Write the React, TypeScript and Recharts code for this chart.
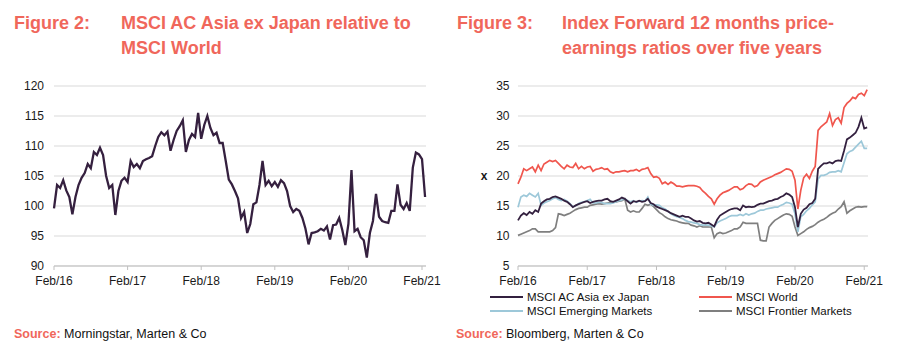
import React from 'react';
import { LineChart, Line, XAxis, YAxis, CartesianGrid } from 'recharts';

// Half-month steps from Feb 2016 (0) to Feb 2021 (120)
const xTickValues = [0, 24, 48, 72, 96, 120];
const xTickLabels = ['Feb/16', 'Feb/17', 'Feb/18', 'Feb/19', 'Feb/20', 'Feb/21'];

const leftYTicks = [90, 95, 100, 105, 110, 115, 120];
const rightYTicks = [5, 10, 15, 20, 25, 30, 35];

// Figure 2: MSCI AC Asia ex Japan relative to MSCI World
const asiaRelWorld = [
  99.6, 103.5, 103.0, 104.3, 102.6, 101.5, 98.6, 101.5, 103.5, 104.7,
  105.5, 107.0, 106.3, 109.0, 108.5, 109.7, 108.5, 105.0, 103.0, 103.5,
  98.5, 102.5, 104.2, 104.7, 104.0, 107.5, 106.5, 107.0, 106.3, 107.5,
  107.8, 108.0, 108.3, 110.0, 111.5, 112.3, 111.8, 112.4, 109.2, 111.0,
  112.5, 113.3, 114.3, 109.0, 111.0, 112.0, 111.5, 115.5, 111.2, 113.5,
  115.0, 113.0, 111.8, 112.2, 110.5, 110.5, 107.5, 104.4, 103.6, 102.5,
  101.3, 98.0, 99.0, 95.5, 97.0, 100.3, 100.6, 103.5, 107.5, 103.5,
  104.2, 103.3, 104.0, 103.2, 104.3, 103.8, 102.5, 100.0, 99.0, 99.5,
  99.2, 98.0, 96.2, 93.6, 95.5, 95.6, 95.8, 96.2, 95.9, 96.6,
  94.4, 96.8, 96.9, 98.0, 96.0, 93.5, 97.0, 106.0, 95.8, 96.2,
  94.8, 94.3, 91.4, 95.5, 97.5, 102.0, 98.2, 97.5, 97.3, 97.2,
  99.2, 99.2, 103.6, 100.2, 99.5, 100.5, 99.2, 106.4, 108.9, 108.6,
  107.8, 101.5,
];

// Figure 3: forward 12m P/E
const peAsiaExJapan = [
  12.6, 13.4, 13.8, 13.5, 14.0, 13.7, 14.3, 14.0, 15.4, 15.8,
  16.1, 16.2, 16.5, 16.6, 16.4, 16.2, 15.9, 15.7, 15.3, 14.8,
  15.1, 15.3, 15.5, 15.7, 15.8, 15.5, 15.7, 15.8, 15.9, 15.9,
  16.1, 16.2, 15.8, 15.7, 15.9, 16.1, 16.4, 16.2, 15.8, 15.4,
  15.8, 15.7, 15.9, 15.7, 15.8, 16.2, 15.5, 15.3, 14.9, 14.7,
  14.5, 14.3, 14.1, 13.8, 13.6, 13.4, 13.2, 13.4, 13.2, 13.2,
  12.9, 12.6, 12.4, 12.5, 12.2, 12.1, 12.2, 11.9, 11.6, 12.7,
  13.4, 13.7, 14.0, 14.3, 14.5, 14.6, 14.6, 14.3, 15.1, 14.8,
  14.9, 14.8, 14.9, 15.2, 15.4, 15.4, 15.6, 15.8, 15.9, 16.1,
  16.2, 16.5, 16.7, 17.1, 16.9, 16.5, 14.8, 11.5, 13.7, 14.4,
  14.7, 15.3, 15.5, 16.2, 21.2, 21.7, 22.1, 22.1, 22.3, 22.1,
  22.5, 22.6, 22.5, 24.2, 26.1, 26.4, 26.8, 27.2, 28.2, 29.7,
  27.9, 28.1,
];

const peWorld = [
  18.7, 19.8, 21.2, 20.9, 21.2, 21.5, 20.7, 21.8, 20.9, 22.0,
  22.3, 22.6, 22.4, 22.6, 22.1, 21.6, 21.2, 21.8, 21.5, 21.4,
  22.1, 21.2, 21.6, 21.2, 21.5, 21.6, 20.8, 21.1, 21.2, 21.4,
  21.1, 21.2, 20.7, 20.5, 20.7, 20.7, 20.8, 20.9, 20.7, 20.9,
  20.9, 21.1, 20.8, 21.1, 21.2, 21.4, 20.4, 19.8, 19.9, 19.6,
  18.7, 19.0, 18.6, 19.0, 18.7, 18.3, 18.3, 18.2, 18.3, 18.4,
  18.4, 18.4, 18.3, 18.1, 17.5, 17.1, 16.6, 16.2, 15.3, 16.2,
  16.8, 17.2, 17.4, 17.6, 17.9, 18.2, 18.2, 17.7, 17.9, 18.4,
  18.7, 18.6, 18.2, 18.4, 19.0, 19.3, 19.5, 19.7, 19.9, 20.2,
  20.4, 20.6, 20.9, 21.2, 21.1, 20.8, 19.3, 14.5, 17.6, 19.7,
  20.3, 19.6, 20.8, 21.6, 27.6, 28.2, 28.6, 29.0, 30.4, 28.4,
  29.4, 29.7, 28.8, 31.4, 32.1, 32.5, 33.1, 32.9, 33.6, 33.8,
  33.4, 34.4,
];

const peEmerging = [
  14.8, 16.5, 16.8, 16.6, 17.1, 16.8, 16.5, 17.1, 15.1, 15.5,
  15.7, 15.9, 16.2, 16.4, 16.1, 15.9, 16.1, 15.8, 15.4, 14.9,
  15.0, 15.4, 15.6, 15.7, 15.9, 16.1, 15.5, 15.5, 15.6, 15.6,
  15.4, 15.4, 15.4, 15.5, 15.7, 15.9, 16.0, 16.2, 15.9, 15.7,
  15.9, 15.6, 15.8, 15.9, 15.8, 16.5, 15.3, 15.1, 15.2, 15.1,
  14.7, 14.5, 14.1, 13.7, 13.4, 13.2, 13.1, 12.9, 12.6, 12.4,
  12.3, 12.2, 12.1, 11.9, 11.8, 11.8, 11.8, 11.7, 11.5, 12.2,
  12.5, 12.7, 12.9, 13.2, 13.4, 13.4, 13.4, 13.6, 13.4, 13.7,
  13.5, 13.7, 13.8, 14.1, 14.3, 14.3, 14.5, 14.6, 14.7, 14.8,
  14.8, 15.1, 15.3, 15.6, 15.5, 15.3, 13.7, 10.7, 13.2, 13.6,
  14.2, 14.6, 15.2, 15.7, 19.5, 20.1, 20.1, 20.3, 20.6, 20.7,
  20.7, 20.9, 20.7, 22.2, 23.7, 24.1, 24.3, 24.8, 25.3, 25.8,
  24.6, 24.6,
];

const peFrontier = [
  10.1, 10.3, 10.5, 10.7, 10.9, 11.2, 11.2, 10.7, 10.7, 10.7,
  10.7, 10.7, 10.9, 11.4, 13.7, 13.6, 13.4, 13.6, 13.8, 14.1,
  14.4, 14.6, 14.7, 14.8, 14.8, 15.1, 15.2, 15.3, 15.4, 15.3,
  15.4, 15.5, 15.6, 15.7, 15.7, 15.8, 15.9, 16.2, 14.3, 14.0,
  14.2, 14.0, 14.0, 14.6, 15.3, 15.1, 15.3, 14.9, 14.4, 13.9,
  13.6, 13.2, 12.9, 12.7, 12.6, 12.5, 12.3, 12.2, 12.1, 12.1,
  11.8, 11.7, 11.5, 11.7, 11.5, 11.5, 11.5, 11.5, 9.7, 10.4,
  10.6, 10.4, 10.5, 10.7, 10.9, 11.2, 11.2, 11.5, 12.3, 12.1,
  12.1, 12.1, 12.1, 12.1, 9.3, 9.2, 9.2, 11.5, 12.1, 12.6,
  12.9, 13.2, 13.5, 13.7, 13.6, 13.3, 11.5, 10.1, 10.4, 10.7,
  11.1, 11.4, 11.6, 11.9, 12.3, 12.6, 12.8, 13.1, 13.5, 13.8,
  14.0, 14.5, 14.9, 15.7, 13.8, 14.2, 14.5, 14.8, 14.9, 14.8,
  14.9, 14.9,
];

const seriesNames = ['MSCI AC Asia ex Japan', 'MSCI World', 'MSCI Emerging Markets', 'MSCI Frontier Markets'];
const seriesColors = ['#33203F', '#F0564D', '#9DC8D9', '#7F7F7F'];

const leftData = asiaRelWorld.map((v, i) => ({ t: i, v }));
const rightData = peAsiaExJapan.map((v, i) => ({
  t: i,
  asia: v,
  world: peWorld[i],
  em: peEmerging[i],
  fm: peFrontier[i],
}));

const FONT = '"Liberation Sans", Arial, Helvetica, sans-serif';
const SALMON = '#F0675B';
const fmtX = (v: number) => xTickLabels[xTickValues.indexOf(v)] ?? '';

const tickStyle = { fontSize: 12, fill: '#1a1a1a', fontFamily: FONT };

function Title({ left, numLeft, fig, lines }: { left: number; numLeft: number; fig: string; lines: string[] }) {
  return (
    <div
      style={{
        position: 'absolute',
        top: 11,
        left,
        fontFamily: FONT,
        fontWeight: 700,
        fontSize: 18,
        lineHeight: '25px',
        color: SALMON,
        whiteSpace: 'nowrap',
      }}
    >
      <div style={{ position: 'absolute', left: 0, top: 0 }}>{fig}</div>
      <div style={{ position: 'absolute', left: numLeft, top: 0 }}>
        {lines.map((l) => (
          <div key={l}>{l}</div>
        ))}
      </div>
    </div>
  );
}

function Source({ left, text }: { left: number; text: string }) {
  return (
    <div
      style={{
        position: 'absolute',
        top: 327,
        left,
        fontFamily: FONT,
        fontSize: 12.5,
        lineHeight: '15px',
        color: '#111',
        whiteSpace: 'nowrap',
      }}
    >
      <span style={{ color: SALMON, fontWeight: 700 }}>Source:</span> {text}
    </div>
  );
}

export default function App() {
  return (
    <div style={{ position: 'absolute', left: 0, top: 0, width: 900, height: 355, background: '#fff', overflow: 'hidden' }}>
      <Title left={14} numLeft={107} fig="Figure 2:" lines={['MSCI AC Asia ex Japan relative to', 'MSCI World']} />
      <Title left={457} numLeft={105} fig="Figure 3:" lines={['Index Forward 12 months price-', 'earnings ratios over five years']} />

      <div style={{ position: 'absolute', left: 0, top: 0 }}>
        <LineChart width={450} height={300} data={leftData} margin={{ top: 86, right: 24, bottom: 14, left: 0 }}>
          <CartesianGrid horizontal vertical={false} stroke="#D9D9D9" strokeWidth={1} />
          <XAxis
            dataKey="t"
            type="number"
            domain={[0, 121.3]}
            ticks={xTickValues}
            tickFormatter={fmtX}
            interval={0}
            height={20}
            tickSize={4}
            tickMargin={6}
            stroke="#BFBFBF"
            tick={tickStyle}
          />
          <YAxis
            type="number"
            domain={[90, 120]}
            ticks={leftYTicks}
            width={54}
            axisLine={false}
            tickLine={false}
            tickMargin={4}
            tick={tickStyle}
          />
          <Line
            type="linear"
            dataKey="v"
            stroke="#35203F"
            strokeWidth={2.3}
            dot={false}
            isAnimationActive={false}
          />
        </LineChart>
      </div>

      <div style={{ position: 'absolute', left: 450, top: 0 }}>
        <LineChart width={450} height={300} data={rightData} margin={{ top: 86, right: 32, bottom: 14, left: 0 }}>
          <CartesianGrid horizontal vertical={false} stroke="#D9D9D9" strokeWidth={1} />
          <XAxis
            dataKey="t"
            type="number"
            domain={[0, 121.3]}
            ticks={xTickValues}
            tickFormatter={fmtX}
            interval={0}
            height={20}
            tickSize={4}
            tickMargin={6}
            stroke="#BFBFBF"
            tick={tickStyle}
          />
          <YAxis
            type="number"
            domain={[5, 35]}
            ticks={rightYTicks}
            width={68}
            axisLine={false}
            tickLine={false}
            tickMargin={2.5}
            tick={tickStyle}
            label={(props: any) => {
              const vb = props.viewBox || { x: 0, y: 86, width: 68, height: 180 };
              return (
                <text
                  x={vb.x + 34}
                  y={vb.y + vb.height / 2}
                  textAnchor="middle"
                  dominantBaseline="central"
                  style={{ fontSize: 12, fontWeight: 700, fontFamily: FONT, fill: '#1a1a1a' }}
                >
                  x
                </text>
              );
            }}
          />
          <Line type="linear" dataKey="fm" name={seriesNames[3]} stroke={seriesColors[3]} strokeWidth={1.7} dot={false} isAnimationActive={false} />
          <Line type="linear" dataKey="em" name={seriesNames[2]} stroke={seriesColors[2]} strokeWidth={1.7} dot={false} isAnimationActive={false} />
          <Line type="linear" dataKey="asia" name={seriesNames[0]} stroke={seriesColors[0]} strokeWidth={1.8} dot={false} isAnimationActive={false} />
          <Line type="linear" dataKey="world" name={seriesNames[1]} stroke={seriesColors[1]} strokeWidth={1.7} dot={false} isAnimationActive={false} />
        </LineChart>
      </div>

      <div
        style={{
          position: 'absolute',
          left: 490,
          top: 290,
          display: 'grid',
          gridTemplateColumns: '209px 200px',
          gridAutoRows: '14.3px',
          fontFamily: FONT,
          fontSize: 11.5,
          color: '#111',
        }}
      >
        {seriesNames.map((n, i) => (
          <div key={n} style={{ display: 'flex', alignItems: 'center', whiteSpace: 'nowrap' }}>
            <span style={{ display: 'inline-block', width: 33, height: 2, background: seriesColors[i], marginRight: 4 }} />
            <span>{n}</span>
          </div>
        ))}
      </div>

      <Source left={14} text="Morningstar, Marten & Co" />
      <Source left={456} text="Bloomberg, Marten & Co" />
    </div>
  );
}
